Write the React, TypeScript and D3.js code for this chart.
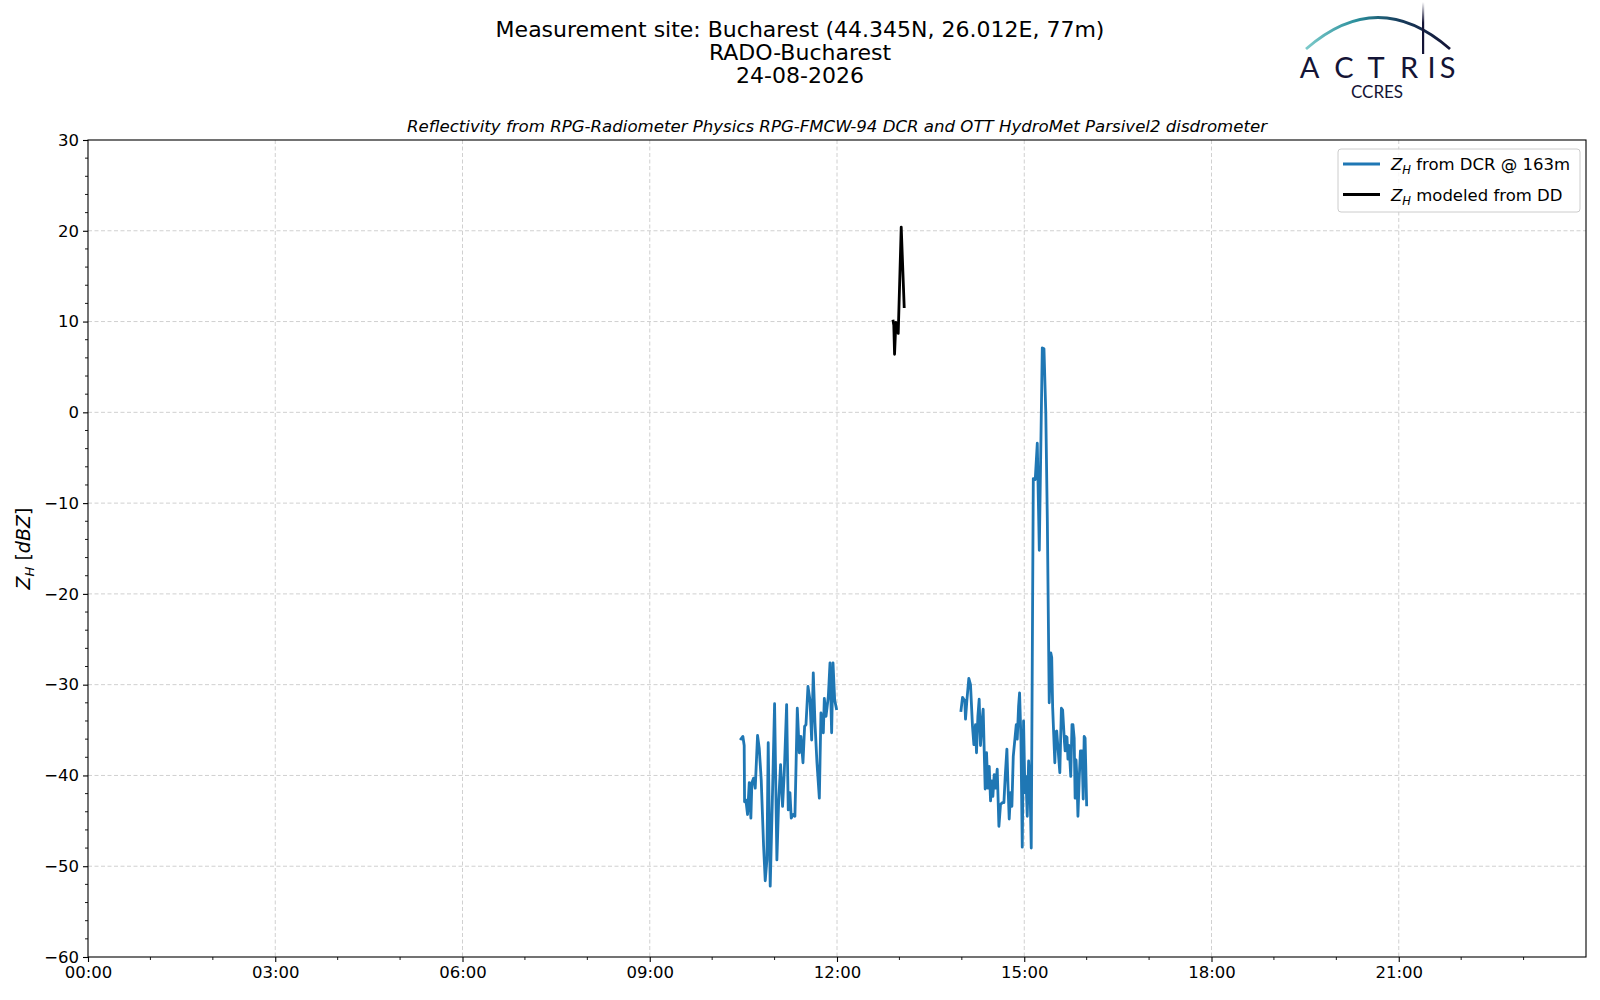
import * as d3 from "d3";
import { useEffect, useRef } from "react";

type Pt = [number, number]; // [hour of day, dBZ]

// Z_H from DCR @ 163 m, morning block
const dcrMorning: Pt[] = [
  [10.449, -36.1], [10.492, -35.7], [10.513, -36.7], [10.519, -42.9], [10.54, -42.7],
  [10.567, -44.3], [10.594, -40.8], [10.62, -44.7], [10.636, -40.8], [10.663, -40.3],
  [10.69, -41.4], [10.727, -35.6], [10.754, -37.0], [10.786, -40.5], [10.824, -47.8],
  [10.85, -51.6], [10.877, -49.3], [10.898, -36.4], [10.93, -52.2], [10.963, -43.1],
  [11.0, -32.1], [11.037, -49.3], [11.064, -43.1], [11.096, -38.8], [11.128, -43.4],
  [11.155, -39.7], [11.193, -32.2], [11.219, -43.8], [11.246, -41.9], [11.267, -44.7],
  [11.299, -44.3], [11.326, -44.5], [11.364, -32.6], [11.396, -37.5], [11.422, -35.7],
  [11.455, -38.6], [11.481, -34.6], [11.503, -34.4], [11.535, -30.2], [11.567, -31.7],
  [11.594, -36.1], [11.62, -28.7], [11.647, -34.2], [11.679, -38.6], [11.717, -42.5],
  [11.743, -33.1], [11.781, -35.3], [11.797, -31.5], [11.824, -33.5], [11.861, -31.3],
  [11.888, -27.6], [11.914, -35.3], [11.936, -27.6], [11.963, -31.7], [11.995, -32.8],
];

// Z_H from DCR @ 163 m, afternoon block
const dcrAfternoon: Pt[] = [
  [13.984, -33.0], [14.011, -31.4], [14.048, -31.8], [14.059, -33.8], [14.08, -31.8],
  [14.112, -29.3], [14.139, -30.0], [14.171, -34.6], [14.193, -36.6], [14.219, -34.4],
  [14.235, -37.5], [14.257, -33.5], [14.278, -31.6], [14.299, -36.7], [14.321, -34.2],
  [14.342, -32.7], [14.374, -41.5], [14.396, -37.5], [14.417, -41.4], [14.439, -39.0],
  [14.46, -42.8], [14.481, -40.6], [14.497, -42.3], [14.519, -39.9], [14.54, -41.4],
  [14.567, -39.3], [14.594, -45.6], [14.62, -43.2], [14.647, -43.0], [14.674, -43.0],
  [14.695, -40.1], [14.722, -37.1], [14.738, -40.8], [14.759, -44.8], [14.781, -41.9],
  [14.802, -43.4], [14.824, -37.9], [14.85, -36.0], [14.872, -34.4], [14.888, -36.0],
  [14.909, -32.4], [14.925, -30.9], [14.947, -36.0], [14.968, -47.9], [14.989, -34.0],
  [15.011, -41.9], [15.027, -40.1], [15.048, -44.5], [15.07, -38.4], [15.091, -40.8],
  [15.112, -48.0], [15.145, -7.3], [15.176, -7.4], [15.209, -3.4], [15.241, -15.2],
  [15.289, 7.1], [15.316, 7.0], [15.345, 0.0], [15.37, -12.0], [15.4, -32.0],
  [15.425, -26.5], [15.44, -27.0], [15.455, -32.5], [15.49, -38.6], [15.505, -35.2],
  [15.52, -35.1], [15.535, -36.5], [15.57, -39.7], [15.595, -32.6], [15.615, -32.8],
  [15.645, -36.4], [15.655, -37.3], [15.67, -35.7], [15.685, -35.8], [15.7, -38.2],
  [15.715, -36.7], [15.73, -38.2], [15.745, -40.1], [15.765, -34.4], [15.78, -34.4],
  [15.8, -35.9], [15.815, -42.5], [15.83, -38.3], [15.845, -40.5], [15.86, -44.5],
  [15.88, -40.5], [15.9, -37.3], [15.925, -37.3], [15.945, -42.6], [15.96, -35.7],
  [15.975, -35.9], [16.0, -43.4],
];

// Z_H modeled from disdrometer DSD
const ddModel: Pt[] = [
  [12.896, 10.2], [12.91, 9.6], [12.922, 6.4], [12.943, 9.9], [12.965, 9.2],
  [12.981, 8.7], [13.029, 20.4], [13.077, 11.5],
];

const hourTicks = [0, 3, 6, 9, 12, 15, 18, 21];
const hourMinor = d3.range(0, 25, 1);
const dbzTicks = [-60, -50, -40, -30, -20, -10, 0, 10, 20, 30];
const dbzMinor = d3.range(-60, 31, 2);

const titleLines = [
  "Measurement site: Bucharest (44.345N, 26.012E, 77m)",
  "RADO-Bucharest",
  "24-08-2026",
];
const subtitle =
  "Reflectivity from RPG-Radiometer Physics RPG-FMCW-94 DCR and OTT HydroMet Parsivel2 disdrometer";
const legendItems = [
  { label: " from DCR @ 163m", color: "#1f77b4" },
  { label: " modeled from DD", color: "#000000" },
];
const logoLetters = ["A", "C", "T", "R", "I", "S"];
const logoLetterX = [1309.5, 1344, 1376, 1409, 1431.5, 1447.5];

const FONT = "DejaVu Sans, sans-serif";

export default function App() {
  const ref = useRef<SVGSVGElement | null>(null);

  useEffect(() => {
    const el = ref.current;
    if (!el) return;
    const svg = d3.select(el);
    svg.selectAll("*").remove();

    const W = 1600;
    const H = 1000;
    const L = 88, T = 140, R = 1586, B = 957;

    const x = d3.scaleLinear().domain([0, 24]).range([L, R]);
    const y = d3.scaleLinear().domain([-60, 30]).range([B, T]);

    svg.attr("viewBox", `0 0 ${W} ${H}`).attr("width", W).attr("height", H);
    svg.append("rect").attr("width", W).attr("height", H).attr("fill", "#fff");

    // titles
    const tt = svg
      .append("text")
      .attr("text-anchor", "middle")
      .attr("font-family", FONT)
      .attr("font-size", 22)
      .attr("fill", "#000");
    titleLines.forEach((t, i) => {
      tt.append("tspan").attr("x", 800).attr("y", 36.5 + i * 23.2).text(t);
    });

    svg
      .append("text")
      .attr("x", (L + R) / 2)
      .attr("y", 132)
      .attr("text-anchor", "middle")
      .attr("font-family", FONT)
      .attr("font-style", "italic")
      .attr("font-size", 16.6)
      .text(subtitle);

    // grid
    const grid = svg.append("g").attr("stroke", "#d0d0d0").attr("stroke-width", 1).attr("stroke-dasharray", "4,2.5");
    grid
      .selectAll("line.v")
      .data(hourTicks.filter((h) => h > 0))
      .join("line")
      .attr("x1", (d) => x(d))
      .attr("x2", (d) => x(d))
      .attr("y1", T)
      .attr("y2", B);
    grid
      .selectAll("line.h")
      .data(dbzTicks.filter((v) => v > -60 && v < 30))
      .join("line")
      .attr("class", "h")
      .attr("x1", L)
      .attr("x2", R)
      .attr("y1", (d) => y(d))
      .attr("y2", (d) => y(d));

    // series
    const line = d3
      .line<Pt>()
      .x((d) => x(d[0]))
      .y((d) => y(d[1]));

    const plot = svg.append("g");
    [dcrMorning, dcrAfternoon].forEach((seg) => {
      plot
        .append("path")
        .datum(seg)
        .attr("fill", "none")
        .attr("stroke", "#1f77b4")
        .attr("stroke-width", 2.8)
        .attr("stroke-linejoin", "round")
        .attr("d", line);
    });
    plot
      .append("path")
      .datum(ddModel)
      .attr("fill", "none")
      .attr("stroke", "#000")
      .attr("stroke-width", 2.8)
      .attr("stroke-linejoin", "round")
      .attr("d", line);

    // axes
    const xa = svg.append("g").attr("transform", `translate(0,${B})`);
    xa.call(
      d3
        .axisBottom(x)
        .tickValues(hourTicks)
        .tickSize(5)
        .tickPadding(4)
        .tickFormat((d) => `${String(d).padStart(2, "0")}:00`),
    );
    xa.selectAll(".domain").remove();
    xa.selectAll(".tick text").attr("font-size", 16.5).attr("font-family", FONT).attr("fill", "#000");
    xa.selectAll(".tick line").attr("stroke", "#000").attr("stroke-width", 1.1);
    svg
      .append("g")
      .attr("transform", `translate(0,${B})`)
      .selectAll("line")
      .data(hourMinor.filter((h) => h % 3 !== 0))
      .join("line")
      .attr("x1", (d) => x(d))
      .attr("x2", (d) => x(d))
      .attr("y1", 0)
      .attr("y2", 3)
      .attr("stroke", "#000")
      .attr("stroke-width", 0.9);

    const ya = svg.append("g").attr("transform", `translate(${L},0)`);
    ya.call(d3.axisLeft(y).tickValues(dbzTicks).tickSize(5).tickPadding(4));
    ya.selectAll(".domain").remove();
    ya.selectAll(".tick text").attr("font-size", 16.5).attr("font-family", FONT).attr("fill", "#000");
    ya.selectAll(".tick line").attr("stroke", "#000").attr("stroke-width", 1.1);
    svg
      .append("g")
      .attr("transform", `translate(${L},0)`)
      .selectAll("line")
      .data(dbzMinor.filter((v) => v % 10 !== 0))
      .join("line")
      .attr("x1", -3)
      .attr("x2", 0)
      .attr("y1", (d) => y(d))
      .attr("y2", (d) => y(d))
      .attr("stroke", "#000")
      .attr("stroke-width", 0.9);

    svg
      .append("rect")
      .attr("x", L)
      .attr("y", T)
      .attr("width", R - L)
      .attr("height", B - T)
      .attr("fill", "none")
      .attr("stroke", "#000")
      .attr("stroke-width", 1.1);

    // y label: Z_H [dBZ]
    const yl = svg
      .append("text")
      .attr("transform", `translate(30,${(T + B) / 2}) rotate(-90)`)
      .attr("text-anchor", "middle")
      .attr("font-family", FONT)
      .attr("font-size", 19);
    yl.append("tspan").attr("font-style", "italic").text("Z");
    yl.append("tspan").attr("font-style", "italic").attr("font-size", 13).attr("dy", 4).text("H");
    yl.append("tspan").attr("dy", -4).text(" [");
    yl.append("tspan").attr("font-style", "italic").text("dBZ");
    yl.append("tspan").text("]");

    // legend
    const lg = svg.append("g");
    lg.append("rect")
      .attr("x", 1338)
      .attr("y", 149)
      .attr("width", 242)
      .attr("height", 63)
      .attr("rx", 3)
      .attr("fill", "#fff")
      .attr("fill-opacity", 0.8)
      .attr("stroke", "#cccccc")
      .attr("stroke-width", 1);
    legendItems.forEach((it, i) => {
      const cy = 164 + i * 30.5;
      lg.append("line")
        .attr("x1", 1343)
        .attr("x2", 1380)
        .attr("y1", cy)
        .attr("y2", cy)
        .attr("stroke", it.color)
        .attr("stroke-width", 2.8);
      const t = lg
        .append("text")
        .attr("x", 1391)
        .attr("y", cy + 6)
        .attr("font-family", FONT)
        .attr("font-size", 16.5);
      t.append("tspan").attr("font-style", "italic").text("Z");
      t.append("tspan").attr("font-style", "italic").attr("font-size", 11.5).attr("dy", 4).text("H");
      t.append("tspan").attr("dy", -4).text(it.label);
    });

    // ACTRIS logo
    const defs = svg.append("defs");
    const arcGrad = defs
      .append("linearGradient")
      .attr("id", "arcGrad")
      .attr("gradientUnits", "userSpaceOnUse")
      .attr("x1", 1306)
      .attr("x2", 1450)
      .attr("y1", 0)
      .attr("y2", 0);
    arcGrad.append("stop").attr("offset", "0%").attr("stop-color", "#7ccaca");
    arcGrad.append("stop").attr("offset", "35%").attr("stop-color", "#2b8f9c");
    arcGrad.append("stop").attr("offset", "65%").attr("stop-color", "#173c5c");
    arcGrad.append("stop").attr("offset", "100%").attr("stop-color", "#141436");
    const vGrad = defs
      .append("linearGradient")
      .attr("id", "vGrad")
      .attr("gradientUnits", "userSpaceOnUse")
      .attr("x1", 0)
      .attr("x2", 0)
      .attr("y1", 2)
      .attr("y2", 54);
    vGrad.append("stop").attr("offset", "0%").attr("stop-color", "#141436").attr("stop-opacity", 0);
    vGrad.append("stop").attr("offset", "40%").attr("stop-color", "#141436").attr("stop-opacity", 1);
    vGrad.append("stop").attr("offset", "100%").attr("stop-color", "#141436").attr("stop-opacity", 1);

    const logo = svg.append("g");
    logo
      .append("path")
      .attr("d", "M1306,49 Q1378,-14 1450,49")
      .attr("fill", "none")
      .attr("stroke", "url(#arcGrad)")
      .attr("stroke-width", 2.8);
    logo
      .append("rect")
      .attr("x", 1422)
      .attr("y", 2)
      .attr("width", 2.2)
      .attr("height", 52)
      .attr("fill", "url(#vGrad)");
    logo
      .selectAll("text.l")
      .data(logoLetters)
      .join("text")
      .attr("x", (_, i) => logoLetterX[i])
      .attr("y", 78)
      .attr("text-anchor", "middle")
      .attr("font-family", "Lato, sans-serif")
      .attr("font-size", 29)
      .attr("fill", "#141436")
      .text((d) => d);
    logo
      .append("text")
      .attr("x", 1377)
      .attr("y", 98)
      .attr("text-anchor", "middle")
      .attr("font-family", "Lato, sans-serif")
      .attr("font-size", 17)
      .attr("fill", "#141436")
      .text("CCRES");
  }, []);

  return (
    <svg
      ref={ref}
      style={{ position: "absolute", left: 0, top: 0, display: "block" }}
    />
  );
}
